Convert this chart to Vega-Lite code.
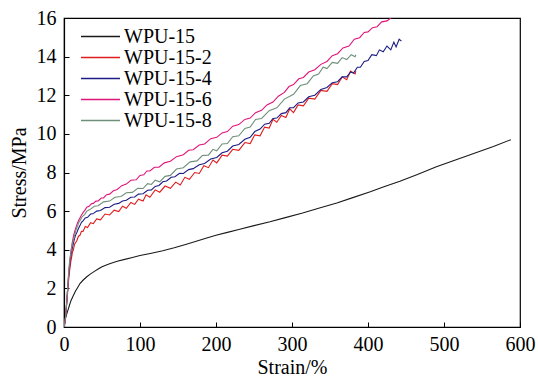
{
  "$schema": "https://vega.github.io/schema/vega-lite/v6.json",
  "width": 456,
  "height": 309,
  "autosize": {"type": "none"},
  "padding": {"left": 64, "top": 18, "right": 18, "bottom": 51},
  "background": "white",
  "config": {
    "font": "Liberation Serif",
    "view": {"stroke": "#000000", "strokeWidth": 1.2},
    "axis": {
      "grid": false,
      "domainColor": "#000000",
      "domainWidth": 1.2,
      "tickColor": "#000000",
      "tickSize": -5,
      "labelFont": "Liberation Serif",
      "labelFontSize": 20,
      "labelColor": "#000000",
      "titleFont": "Liberation Serif",
      "titleFontSize": 20,
      "titleFontWeight": "normal",
      "titleColor": "#000000"
    },
    "legend": {
      "labelFont": "Liberation Serif",
      "labelFontSize": 20,
      "labelColor": "#000000"
    }
  },
  "data": {
    "values": [
      {"s":"WPU-15","x":0,"y":0},{"s":"WPU-15","x":1,"y":0.25},{"s":"WPU-15","x":2,"y":0.45},{"s":"WPU-15","x":3,"y":0.6},{"s":"WPU-15","x":5,"y":0.85},{"s":"WPU-15","x":7,"y":1.1},{"s":"WPU-15","x":9,"y":1.35},{"s":"WPU-15","x":12,"y":1.6},{"s":"WPU-15","x":15,"y":1.85},{"s":"WPU-15","x":18,"y":2.05},{"s":"WPU-15","x":21,"y":2.25},{"s":"WPU-15","x":25,"y":2.42},{"s":"WPU-15","x":30,"y":2.6},{"s":"WPU-15","x":35,"y":2.75},{"s":"WPU-15","x":40,"y":2.88},{"s":"WPU-15","x":45,"y":3.0},{"s":"WPU-15","x":50,"y":3.12},{"s":"WPU-15","x":60,"y":3.28},{"s":"WPU-15","x":70,"y":3.4},{"s":"WPU-15","x":80,"y":3.5},{"s":"WPU-15","x":90,"y":3.6},{"s":"WPU-15","x":100,"y":3.7},{"s":"WPU-15","x":115,"y":3.82},{"s":"WPU-15","x":130,"y":3.95},{"s":"WPU-15","x":145,"y":4.1},{"s":"WPU-15","x":160,"y":4.27},{"s":"WPU-15","x":175,"y":4.45},{"s":"WPU-15","x":190,"y":4.63},{"s":"WPU-15","x":200,"y":4.75},{"s":"WPU-15","x":215,"y":4.9},{"s":"WPU-15","x":230,"y":5.05},{"s":"WPU-15","x":250,"y":5.25},{"s":"WPU-15","x":271,"y":5.45},{"s":"WPU-15","x":290,"y":5.65},{"s":"WPU-15","x":314,"y":5.9},{"s":"WPU-15","x":335,"y":6.15},{"s":"WPU-15","x":359,"y":6.42},{"s":"WPU-15","x":380,"y":6.7},{"s":"WPU-15","x":403,"y":7.0},{"s":"WPU-15","x":420,"y":7.25},{"s":"WPU-15","x":442,"y":7.55},{"s":"WPU-15","x":465,"y":7.9},{"s":"WPU-15","x":490,"y":8.3},{"s":"WPU-15","x":515,"y":8.65},{"s":"WPU-15","x":540,"y":9.0},{"s":"WPU-15","x":565,"y":9.35},{"s":"WPU-15","x":588,"y":9.7},

      {"s":"WPU-15-2","x":0,"y":0},{"s":"WPU-15-2","x":1,"y":0.2},{"s":"WPU-15-2","x":2,"y":0.5},{"s":"WPU-15-2","x":3,"y":0.95},{"s":"WPU-15-2","x":4,"y":1.4},{"s":"WPU-15-2","x":5,"y":1.9},{"s":"WPU-15-2","x":6,"y":2.4},{"s":"WPU-15-2","x":7,"y":2.8},{"s":"WPU-15-2","x":8,"y":3.1},{"s":"WPU-15-2","x":9,"y":3.4},{"s":"WPU-15-2","x":10,"y":3.6},{"s":"WPU-15-2","x":11,"y":3.85},{"s":"WPU-15-2","x":12.3,"y":4.0},{"s":"WPU-15-2","x":14,"y":4.3},{"s":"WPU-15-2","x":16.7,"y":4.45},{"s":"WPU-15-2","x":19,"y":4.7},{"s":"WPU-15-2","x":21,"y":4.75},{"s":"WPU-15-2","x":23,"y":4.95},{"s":"WPU-15-2","x":25,"y":4.95},{"s":"WPU-15-2","x":28,"y":5.2},{"s":"WPU-15-2","x":31,"y":5.15},{"s":"WPU-15-2","x":35,"y":5.4},{"s":"WPU-15-2","x":38.6,"y":5.35},{"s":"WPU-15-2","x":43,"y":5.6},{"s":"WPU-15-2","x":48,"y":5.55},{"s":"WPU-15-2","x":54,"y":5.85},{"s":"WPU-15-2","x":60,"y":5.8},{"s":"WPU-15-2","x":66,"y":6.05},{"s":"WPU-15-2","x":72,"y":5.98},{"s":"WPU-15-2","x":77,"y":6.25},{"s":"WPU-15-2","x":82,"y":6.15},{"s":"WPU-15-2","x":88,"y":6.45},{"s":"WPU-15-2","x":93,"y":6.35},{"s":"WPU-15-2","x":98,"y":6.62},{"s":"WPU-15-2","x":104,"y":6.52},{"s":"WPU-15-2","x":108,"y":6.85},{"s":"WPU-15-2","x":113,"y":6.72},{"s":"WPU-15-2","x":120,"y":7.1},{"s":"WPU-15-2","x":126,"y":6.98},{"s":"WPU-15-2","x":133,"y":7.3},{"s":"WPU-15-2","x":140,"y":7.18},{"s":"WPU-15-2","x":147,"y":7.5},{"s":"WPU-15-2","x":153,"y":7.35},{"s":"WPU-15-2","x":159,"y":7.75},{"s":"WPU-15-2","x":165,"y":7.65},{"s":"WPU-15-2","x":172,"y":8.0},{"s":"WPU-15-2","x":178,"y":7.95},{"s":"WPU-15-2","x":184,"y":8.35},{"s":"WPU-15-2","x":190,"y":8.25},{"s":"WPU-15-2","x":196,"y":8.65},{"s":"WPU-15-2","x":201,"y":8.5},{"s":"WPU-15-2","x":208,"y":8.9},{"s":"WPU-15-2","x":215,"y":8.85},{"s":"WPU-15-2","x":222,"y":9.2},{"s":"WPU-15-2","x":230,"y":9.15},{"s":"WPU-15-2","x":238,"y":9.55},{"s":"WPU-15-2","x":245,"y":9.5},{"s":"WPU-15-2","x":251,"y":9.95},{"s":"WPU-15-2","x":258,"y":9.9},{"s":"WPU-15-2","x":264,"y":10.35},{"s":"WPU-15-2","x":270,"y":10.3},{"s":"WPU-15-2","x":275,"y":10.75},{"s":"WPU-15-2","x":280,"y":10.6},{"s":"WPU-15-2","x":286,"y":10.95},{"s":"WPU-15-2","x":292,"y":10.85},{"s":"WPU-15-2","x":297,"y":11.3},{"s":"WPU-15-2","x":302,"y":11.1},{"s":"WPU-15-2","x":308,"y":11.5},{"s":"WPU-15-2","x":315,"y":11.45},{"s":"WPU-15-2","x":322,"y":11.85},{"s":"WPU-15-2","x":330,"y":11.8},{"s":"WPU-15-2","x":338,"y":12.25},{"s":"WPU-15-2","x":346,"y":12.2},{"s":"WPU-15-2","x":353,"y":12.6},{"s":"WPU-15-2","x":360,"y":12.55},{"s":"WPU-15-2","x":366,"y":12.95},{"s":"WPU-15-2","x":372,"y":12.8},{"s":"WPU-15-2","x":377,"y":13.25},{"s":"WPU-15-2","x":383,"y":13.1},{"s":"WPU-15-2","x":384,"y":13.25},

      {"s":"WPU-15-4","x":0,"y":0},{"s":"WPU-15-4","x":1,"y":0.2},{"s":"WPU-15-4","x":2,"y":0.5},{"s":"WPU-15-4","x":3,"y":1.0},{"s":"WPU-15-4","x":4,"y":1.5},{"s":"WPU-15-4","x":5,"y":2.05},{"s":"WPU-15-4","x":6,"y":2.6},{"s":"WPU-15-4","x":7,"y":3.0},{"s":"WPU-15-4","x":8,"y":3.4},{"s":"WPU-15-4","x":9.5,"y":3.8},{"s":"WPU-15-4","x":11,"y":4.1},{"s":"WPU-15-4","x":12.5,"y":4.35},{"s":"WPU-15-4","x":14,"y":4.6},{"s":"WPU-15-4","x":15.5,"y":4.78},{"s":"WPU-15-4","x":17,"y":4.9},{"s":"WPU-15-4","x":19,"y":5.1},{"s":"WPU-15-4","x":21,"y":5.25},{"s":"WPU-15-4","x":23,"y":5.42},{"s":"WPU-15-4","x":25,"y":5.5},{"s":"WPU-15-4","x":28,"y":5.65},{"s":"WPU-15-4","x":31,"y":5.68},{"s":"WPU-15-4","x":35,"y":5.85},{"s":"WPU-15-4","x":38,"y":5.86},{"s":"WPU-15-4","x":43,"y":6.0},{"s":"WPU-15-4","x":48,"y":6.03},{"s":"WPU-15-4","x":54,"y":6.18},{"s":"WPU-15-4","x":60,"y":6.2},{"s":"WPU-15-4","x":66,"y":6.36},{"s":"WPU-15-4","x":72,"y":6.4},{"s":"WPU-15-4","x":77,"y":6.52},{"s":"WPU-15-4","x":82,"y":6.56},{"s":"WPU-15-4","x":88,"y":6.72},{"s":"WPU-15-4","x":93,"y":6.73},{"s":"WPU-15-4","x":98,"y":6.88},{"s":"WPU-15-4","x":104,"y":6.9},{"s":"WPU-15-4","x":110,"y":7.08},{"s":"WPU-15-4","x":115,"y":7.1},{"s":"WPU-15-4","x":120,"y":7.28},{"s":"WPU-15-4","x":125,"y":7.33},{"s":"WPU-15-4","x":130,"y":7.52},{"s":"WPU-15-4","x":135,"y":7.56},{"s":"WPU-15-4","x":141,"y":7.75},{"s":"WPU-15-4","x":146,"y":7.78},{"s":"WPU-15-4","x":152,"y":7.96},{"s":"WPU-15-4","x":157,"y":7.95},{"s":"WPU-15-4","x":164,"y":8.15},{"s":"WPU-15-4","x":170,"y":8.2},{"s":"WPU-15-4","x":178,"y":8.4},{"s":"WPU-15-4","x":185,"y":8.47},{"s":"WPU-15-4","x":193,"y":8.7},{"s":"WPU-15-4","x":201,"y":8.78},{"s":"WPU-15-4","x":208,"y":9.02},{"s":"WPU-15-4","x":215,"y":9.1},{"s":"WPU-15-4","x":222,"y":9.37},{"s":"WPU-15-4","x":230,"y":9.45},{"s":"WPU-15-4","x":238,"y":9.72},{"s":"WPU-15-4","x":245,"y":9.82},{"s":"WPU-15-4","x":251,"y":10.12},{"s":"WPU-15-4","x":258,"y":10.25},{"s":"WPU-15-4","x":264,"y":10.5},{"s":"WPU-15-4","x":270,"y":10.55},{"s":"WPU-15-4","x":275,"y":10.8},{"s":"WPU-15-4","x":280,"y":10.82},{"s":"WPU-15-4","x":286,"y":11.05},{"s":"WPU-15-4","x":292,"y":11.1},{"s":"WPU-15-4","x":297,"y":11.35},{"s":"WPU-15-4","x":302,"y":11.36},{"s":"WPU-15-4","x":308,"y":11.6},{"s":"WPU-15-4","x":315,"y":11.65},{"s":"WPU-15-4","x":322,"y":11.92},{"s":"WPU-15-4","x":330,"y":12.0},{"s":"WPU-15-4","x":338,"y":12.3},{"s":"WPU-15-4","x":346,"y":12.4},{"s":"WPU-15-4","x":353,"y":12.65},{"s":"WPU-15-4","x":360,"y":12.7},{"s":"WPU-15-4","x":366,"y":12.95},{"s":"WPU-15-4","x":372,"y":12.95},{"s":"WPU-15-4","x":377,"y":13.2},{"s":"WPU-15-4","x":381,"y":13.15},{"s":"WPU-15-4","x":386,"y":13.45},{"s":"WPU-15-4","x":390,"y":13.45},{"s":"WPU-15-4","x":395,"y":13.75},{"s":"WPU-15-4","x":400,"y":13.8},{"s":"WPU-15-4","x":405,"y":14.1},{"s":"WPU-15-4","x":411,"y":14.05},{"s":"WPU-15-4","x":415,"y":14.35},{"s":"WPU-15-4","x":420,"y":14.25},{"s":"WPU-15-4","x":425,"y":14.55},{"s":"WPU-15-4","x":430,"y":14.35},{"s":"WPU-15-4","x":434,"y":14.75},{"s":"WPU-15-4","x":437,"y":14.5},{"s":"WPU-15-4","x":441,"y":14.9},{"s":"WPU-15-4","x":444,"y":14.8},

      {"s":"WPU-15-6","x":0,"y":0},{"s":"WPU-15-6","x":1,"y":0.2},{"s":"WPU-15-6","x":2,"y":0.5},{"s":"WPU-15-6","x":3,"y":1.0},{"s":"WPU-15-6","x":4,"y":1.5},{"s":"WPU-15-6","x":5,"y":2.05},{"s":"WPU-15-6","x":6,"y":2.6},{"s":"WPU-15-6","x":7,"y":3.1},{"s":"WPU-15-6","x":8,"y":3.5},{"s":"WPU-15-6","x":9,"y":3.85},{"s":"WPU-15-6","x":10,"y":4.15},{"s":"WPU-15-6","x":11,"y":4.4},{"s":"WPU-15-6","x":12,"y":4.6},{"s":"WPU-15-6","x":13,"y":4.8},{"s":"WPU-15-6","x":14.5,"y":5.0},{"s":"WPU-15-6","x":16.5,"y":5.25},{"s":"WPU-15-6","x":19,"y":5.5},{"s":"WPU-15-6","x":21,"y":5.65},{"s":"WPU-15-6","x":23,"y":5.8},{"s":"WPU-15-6","x":25.5,"y":5.95},{"s":"WPU-15-6","x":27.6,"y":6.05},{"s":"WPU-15-6","x":30,"y":6.2},{"s":"WPU-15-6","x":33,"y":6.25},{"s":"WPU-15-6","x":36,"y":6.38},{"s":"WPU-15-6","x":38.6,"y":6.4},{"s":"WPU-15-6","x":42,"y":6.52},{"s":"WPU-15-6","x":45,"y":6.53},{"s":"WPU-15-6","x":49,"y":6.68},{"s":"WPU-15-6","x":52,"y":6.68},{"s":"WPU-15-6","x":56,"y":6.85},{"s":"WPU-15-6","x":60,"y":6.88},{"s":"WPU-15-6","x":65,"y":7.05},{"s":"WPU-15-6","x":70,"y":7.12},{"s":"WPU-15-6","x":76,"y":7.32},{"s":"WPU-15-6","x":82,"y":7.4},{"s":"WPU-15-6","x":88,"y":7.6},{"s":"WPU-15-6","x":95,"y":7.62},{"s":"WPU-15-6","x":100,"y":7.85},{"s":"WPU-15-6","x":105,"y":7.88},{"s":"WPU-15-6","x":109,"y":8.08},{"s":"WPU-15-6","x":113,"y":8.08},{"s":"WPU-15-6","x":119,"y":8.27},{"s":"WPU-15-6","x":125,"y":8.28},{"s":"WPU-15-6","x":132,"y":8.5},{"s":"WPU-15-6","x":140,"y":8.58},{"s":"WPU-15-6","x":148,"y":8.82},{"s":"WPU-15-6","x":157,"y":8.92},{"s":"WPU-15-6","x":164,"y":9.15},{"s":"WPU-15-6","x":170,"y":9.18},{"s":"WPU-15-6","x":178,"y":9.42},{"s":"WPU-15-6","x":185,"y":9.48},{"s":"WPU-15-6","x":193,"y":9.75},{"s":"WPU-15-6","x":201,"y":9.82},{"s":"WPU-15-6","x":208,"y":10.05},{"s":"WPU-15-6","x":215,"y":10.12},{"s":"WPU-15-6","x":222,"y":10.4},{"s":"WPU-15-6","x":230,"y":10.48},{"s":"WPU-15-6","x":238,"y":10.75},{"s":"WPU-15-6","x":245,"y":10.82},{"s":"WPU-15-6","x":252,"y":11.1},{"s":"WPU-15-6","x":260,"y":11.22},{"s":"WPU-15-6","x":267,"y":11.5},{"s":"WPU-15-6","x":275,"y":11.65},{"s":"WPU-15-6","x":282,"y":11.95},{"s":"WPU-15-6","x":290,"y":12.15},{"s":"WPU-15-6","x":296,"y":12.45},{"s":"WPU-15-6","x":302,"y":12.55},{"s":"WPU-15-6","x":309,"y":12.85},{"s":"WPU-15-6","x":315,"y":12.92},{"s":"WPU-15-6","x":322,"y":13.2},{"s":"WPU-15-6","x":330,"y":13.32},{"s":"WPU-15-6","x":338,"y":13.6},{"s":"WPU-15-6","x":346,"y":13.75},{"s":"WPU-15-6","x":353,"y":14.05},{"s":"WPU-15-6","x":360,"y":14.15},{"s":"WPU-15-6","x":367,"y":14.45},{"s":"WPU-15-6","x":375,"y":14.55},{"s":"WPU-15-6","x":382,"y":14.9},{"s":"WPU-15-6","x":389,"y":14.98},{"s":"WPU-15-6","x":395,"y":15.25},{"s":"WPU-15-6","x":400,"y":15.28},{"s":"WPU-15-6","x":406,"y":15.5},{"s":"WPU-15-6","x":412,"y":15.55},{"s":"WPU-15-6","x":418,"y":15.8},{"s":"WPU-15-6","x":425,"y":15.85},{"s":"WPU-15-6","x":430,"y":16.0},

      {"s":"WPU-15-8","x":0,"y":0},{"s":"WPU-15-8","x":1,"y":0.2},{"s":"WPU-15-8","x":2,"y":0.5},{"s":"WPU-15-8","x":3,"y":1.0},{"s":"WPU-15-8","x":4,"y":1.5},{"s":"WPU-15-8","x":5,"y":2.15},{"s":"WPU-15-8","x":6,"y":2.8},{"s":"WPU-15-8","x":7,"y":3.25},{"s":"WPU-15-8","x":8,"y":3.6},{"s":"WPU-15-8","x":9.5,"y":4.0},{"s":"WPU-15-8","x":11,"y":4.3},{"s":"WPU-15-8","x":13,"y":4.6},{"s":"WPU-15-8","x":14.5,"y":4.85},{"s":"WPU-15-8","x":16,"y":5.05},{"s":"WPU-15-8","x":18,"y":5.25},{"s":"WPU-15-8","x":19.5,"y":5.42},{"s":"WPU-15-8","x":21,"y":5.5},{"s":"WPU-15-8","x":24,"y":5.72},{"s":"WPU-15-8","x":27,"y":5.82},{"s":"WPU-15-8","x":30,"y":6.0},{"s":"WPU-15-8","x":34,"y":6.08},{"s":"WPU-15-8","x":40,"y":6.25},{"s":"WPU-15-8","x":45,"y":6.28},{"s":"WPU-15-8","x":52,"y":6.48},{"s":"WPU-15-8","x":60,"y":6.52},{"s":"WPU-15-8","x":67,"y":6.72},{"s":"WPU-15-8","x":75,"y":6.76},{"s":"WPU-15-8","x":82,"y":6.95},{"s":"WPU-15-8","x":90,"y":6.97},{"s":"WPU-15-8","x":97,"y":7.18},{"s":"WPU-15-8","x":104,"y":7.17},{"s":"WPU-15-8","x":110,"y":7.42},{"s":"WPU-15-8","x":115,"y":7.38},{"s":"WPU-15-8","x":120,"y":7.6},{"s":"WPU-15-8","x":126,"y":7.52},{"s":"WPU-15-8","x":133,"y":7.8},{"s":"WPU-15-8","x":140,"y":7.85},{"s":"WPU-15-8","x":148,"y":8.18},{"s":"WPU-15-8","x":157,"y":8.25},{"s":"WPU-15-8","x":166,"y":8.55},{"s":"WPU-15-8","x":175,"y":8.6},{"s":"WPU-15-8","x":182,"y":8.88},{"s":"WPU-15-8","x":190,"y":8.9},{"s":"WPU-15-8","x":196,"y":9.2},{"s":"WPU-15-8","x":201,"y":9.12},{"s":"WPU-15-8","x":208,"y":9.48},{"s":"WPU-15-8","x":215,"y":9.5},{"s":"WPU-15-8","x":222,"y":9.85},{"s":"WPU-15-8","x":230,"y":9.9},{"s":"WPU-15-8","x":238,"y":10.28},{"s":"WPU-15-8","x":245,"y":10.35},{"s":"WPU-15-8","x":252,"y":10.75},{"s":"WPU-15-8","x":260,"y":10.8},{"s":"WPU-15-8","x":270,"y":11.2},{"s":"WPU-15-8","x":280,"y":11.35},{"s":"WPU-15-8","x":290,"y":11.8},{"s":"WPU-15-8","x":302,"y":12.05},{"s":"WPU-15-8","x":311,"y":12.5},{"s":"WPU-15-8","x":320,"y":12.6},{"s":"WPU-15-8","x":328,"y":13.0},{"s":"WPU-15-8","x":335,"y":13.1},{"s":"WPU-15-8","x":341,"y":13.45},{"s":"WPU-15-8","x":346,"y":13.38},{"s":"WPU-15-8","x":353,"y":13.7},{"s":"WPU-15-8","x":360,"y":13.65},{"s":"WPU-15-8","x":366,"y":13.95},{"s":"WPU-15-8","x":372,"y":13.85},{"s":"WPU-15-8","x":378,"y":14.1},{"s":"WPU-15-8","x":383,"y":14.0},{"s":"WPU-15-8","x":384,"y":14.1}
    ]
  },
  "mark": {"type": "line", "strokeWidth": 1.1, "clip": true},
  "encoding": {
    "x": {
      "field": "x", "type": "quantitative", "title": "Strain/%",
      "scale": {"domain": [0, 600], "nice": false},
      "axis": {"values": [0, 100, 200, 300, 400, 500, 600], "labelPadding": 12, "titlePadding": 3, "labelFlush": false}
    },
    "y": {
      "field": "y", "type": "quantitative", "title": "Stress/MPa",
      "scale": {"domain": [0, 16], "nice": false},
      "axis": {"values": [0, 2, 4, 6, 8, 10, 12, 14, 16], "labelPadding": 13, "titlePadding": 7, "labelFlush": false}
    },
    "color": {
      "field": "s", "type": "nominal",
      "scale": {
        "domain": ["WPU-15", "WPU-15-2", "WPU-15-4", "WPU-15-6", "WPU-15-8"],
        "range": ["#1a1a1a", "#e01c1c", "#1c1c84", "#e0157a", "#6f8f7a"]
      },
      "legend": {
        "title": null,
        "orient": "none",
        "legendX": 26,
        "legendY": 8,
        "symbolType": "M-2,0H2",
        "symbolSize": 380,
        "symbolStrokeWidth": 1.5,
        "labelOffset": 13,
        "rowPadding": 0,
        "padding": 0
      }
    },
    "order": {"field": "x", "type": "quantitative"}
  }
}
